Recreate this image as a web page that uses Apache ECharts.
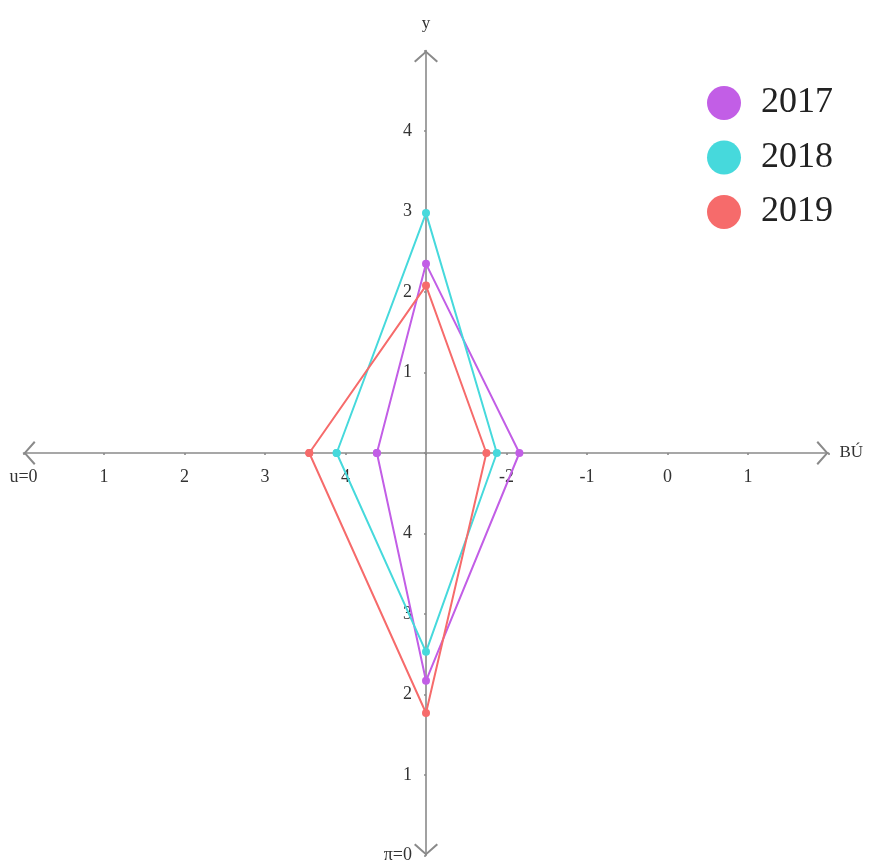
<!DOCTYPE html>
<html>
<head>
<meta charset="utf-8">
<script src="https://cdn.jsdelivr.net/npm/echarts@6/dist/echarts.min.js"></script>
<style>
html,body{margin:0;padding:0;background:#fff;}
#main{width:869px;height:862px;}
</style>
</head>
<body>
<div id="main"></div>
<script>
// Years (series)
const years = ['2017', '2018', '2019'];
// Values read on each of the four half-axes
const leftVals = [4.39, 3.89, 3.55];     // left half-axis (u), 0 at far left, 5 at centre
const topVals = [2.35, 2.98, 2.08];      // upper half-axis (y), 0 at centre
const rightVals = [-1.84, -2.12, -2.25]; // right half-axis (BÚ), -3 at centre
const bottomVals = [2.17, 2.53, 1.77];   // lower half-axis (π), 0 at bottom, 5 at centre
// Tick labels from -5 to 5 on the shared scales
const xTickLabels = ['u=0', '1', '2', '3', '4', '', '-2', '-1', '0', '1', ''];
const yTickLabels = ['π=0', '1', '2', '3', '4', '', '1', '2', '3', '4', ''];
const colors = ['#c25ee6', '#46d9dc', '#f66b6b'];

// offsets that place each half-axis on the shared -5..5 scales
const LEFT_SHIFT = -5, RIGHT_SHIFT = 3, BOTTOM_SHIFT = -5;

const chevron = 'path://M0 10.5 L12 0 L24 10.5 L22.6 12 L12 2.6 L1.4 12 Z';
const serif = '"Liberation Serif", "DejaVu Serif", serif';

const axisLineStyle = { color: '#8a8a8a', width: 1.6 };

const GRID = { left: 23.5, right: 40.5, top: 50.5, bottom: 6.5 };
const W = 869, H = 862;
const halfW = (W - GRID.left - GRID.right) / 2;
const halfH = (H - GRID.top - GRID.bottom) / 2;

const series = years.map((yr, i) => ({
  name: yr,
  type: 'line',
  data: [
    [leftVals[i] + LEFT_SHIFT, 0],
    [0, topVals[i]],
    [rightVals[i] + RIGHT_SHIFT, 0],
    [0, bottomVals[i] + BOTTOM_SHIFT],
    [leftVals[i] + LEFT_SHIFT, 0]
  ],
  symbol: 'circle',
  symbolSize: 8,
  showSymbol: true,
  lineStyle: { color: colors[i], width: 2 },
  itemStyle: { color: colors[i] },
  z: 3
}));

const chart = echarts.init(document.getElementById('main'), null, { renderer: 'canvas' });
chart.setOption({
  animation: false,
  backgroundColor: '#fff',
  grid: Object.assign({ outerBoundsMode: 'none', containLabel: false }, GRID),
  legend: {
    orient: 'vertical',
    left: 702,
    top: 80,
    icon: 'circle',
    itemWidth: 34,
    itemHeight: 34,
    itemGap: 18.5,
    data: years,
    textStyle: { fontFamily: serif, fontSize: 36, color: '#222', padding: [0, 0, 0, 15], lineHeight: 34 }
  },
  xAxis: {
    type: 'value',
    position: 'bottom',
    offset: -halfH,
    min: -5, max: 5, interval: 1,
    name: 'BÚ',
    nameLocation: 'end',
    nameGap: 11,
    nameTextStyle: { fontFamily: serif, fontSize: 17, color: '#333' },
    splitLine: { show: false },
    axisLine: {
      onZero: false,
      lineStyle: axisLineStyle,
      symbol: [chevron, chevron],
      symbolSize: [24, 12],
      symbolOffset: [6, -6]
    },
    axisTick: { show: true, length: 2, lineStyle: axisLineStyle },
    axisLabel: {
      showMinLabel: true, showMaxLabel: true,
      margin: 15,
      fontFamily: serif, fontSize: 18, color: '#333',
      formatter: v => xTickLabels[Math.round(v) + 5]
    }
  },
  yAxis: {
    type: 'value',
    position: 'left',
    offset: -halfW,
    min: -5, max: 5, interval: 1,
    name: 'y',
    nameLocation: 'end',
    nameGap: 18,
    nameTextStyle: { fontFamily: serif, fontSize: 17, color: '#333' },
    splitLine: { show: false },
    axisLine: {
      onZero: false,
      lineStyle: axisLineStyle,
      symbol: [chevron, chevron],
      symbolSize: [24, 12],
      symbolOffset: [6, -6]
    },
    axisTick: { show: true, length: 2, lineStyle: axisLineStyle },
    axisLabel: {
      showMinLabel: true, showMaxLabel: true,
      margin: 14,
      fontFamily: serif, fontSize: 18, color: '#333',
      formatter: v => yTickLabels[Math.round(v) + 5]
    }
  },
  series: series
});
</script>
</body>
</html>
